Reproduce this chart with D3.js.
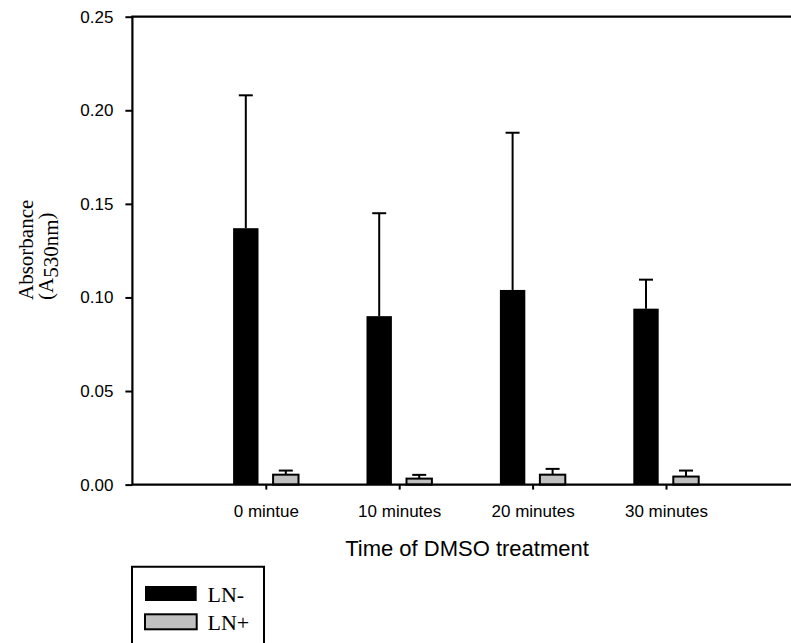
<!DOCTYPE html>
<html lang="en">
<head>
<meta charset="UTF-8">
<script src="https://d3js.org/d3.v7.min.js"></script>
<style>
  body { margin: 0; background: #fff; }
  svg { display: block; }
  .tick text { font-family: "Liberation Sans", Arial, sans-serif; font-size: 17px; fill: #000; }
</style>
</head>
<body>
<script>
const categories = ["0 mintue", "10 minutes", "20 minutes", "30 minutes"];
const seriesNames = ["LN-", "LN+"];
const lnMinus = [0.137, 0.090, 0.104, 0.094];
const lnMinusErr = [0.071, 0.055, 0.084, 0.0155];
const lnPlus = [0.0053, 0.0032, 0.0053, 0.0043];
const lnPlusErr = [0.0022, 0.0020, 0.0031, 0.0032];
const yTicks = [0, 0.05, 0.10, 0.15, 0.20, 0.25];

const width = 791, height = 643;
const plotLeft = 132.4, plotTop = 16.7, plotBottom = 484.6, plotRight = 791;

const svg = d3.select("body").append("svg")
  .attr("width", width).attr("height", height);

// group positions 1..4, axis runs off the right edge
const x = d3.scaleLinear().domain([0, 5]).range([plotLeft, plotLeft + 5 * 133.4]);
const y = d3.scaleLinear().domain([0, 0.25]).range([plotBottom, plotTop]);

const barW = 25.4, offset = 20;
const fills = ["#000", "#c0c0c0"];

const series = [
  { name: seriesNames[0], values: lnMinus, err: lnMinusErr, dx: -offset, fill: fills[0] },
  { name: seriesNames[1], values: lnPlus, err: lnPlusErr, dx: offset, fill: fills[1] }
];

series.forEach(s => {
  const g = svg.append("g");
  const rows = categories.map((c, i) => ({ i, v: s.values[i], e: s.err[i] }));

  // error bars (upper only)
  g.selectAll("line.err").data(rows).join("line")
    .attr("class", "err")
    .attr("x1", d => x(d.i + 1) + s.dx).attr("x2", d => x(d.i + 1) + s.dx)
    .attr("y1", d => y(d.v)).attr("y2", d => y(d.v + d.e))
    .attr("stroke", "#000").attr("stroke-width", 2);
  g.selectAll("line.cap").data(rows).join("line")
    .attr("class", "cap")
    .attr("x1", d => x(d.i + 1) + s.dx - 7).attr("x2", d => x(d.i + 1) + s.dx + 7)
    .attr("y1", d => y(d.v + d.e)).attr("y2", d => y(d.v + d.e))
    .attr("stroke", "#000").attr("stroke-width", 2);

  g.selectAll("rect").data(rows).join("rect")
    .attr("x", d => x(d.i + 1) + s.dx - barW / 2)
    .attr("y", d => y(d.v))
    .attr("width", barW)
    .attr("height", d => y(0) - y(d.v))
    .attr("fill", s.fill)
    .attr("stroke", s.fill === "#000" ? "none" : "#000")
    .attr("stroke-width", 2);
});

// y axis
svg.append("g")
  .attr("transform", `translate(${plotLeft},0)`)
  .call(d3.axisLeft(y).tickValues(yTicks).tickFormat(d3.format(".2f"))
    .tickSize(7).tickPadding(12))
  .call(g => g.select(".domain").remove())
  .call(g => g.selectAll(".tick line").attr("stroke-width", 2));

// x axis
svg.append("g")
  .attr("transform", `translate(0,${plotBottom})`)
  .call(d3.axisBottom(x).tickValues([1, 2, 3, 4]).tickFormat(d => categories[d - 1])
    .tickSize(5).tickPadding(15))
  .call(g => g.select(".domain").remove())
  .call(g => g.selectAll(".tick line").attr("stroke-width", 2));

// frame lines: left, top, bottom
svg.append("path")
  .attr("d", `M${plotRight},${plotTop}H${plotLeft}V${plotBottom}H${plotRight}`)
  .attr("fill", "none").attr("stroke", "#000").attr("stroke-width", 2.2);

// axis titles
svg.append("text")
  .attr("x", 467).attr("y", 556)
  .attr("text-anchor", "middle")
  .style("font-family", "'Liberation Sans', Arial, sans-serif")
  .style("font-size", "22px")
  .text("Time of DMSO treatment");

const yt = svg.append("text")
  .attr("transform", "translate(33,300) rotate(-90)")
  .style("font-family", "'Liberation Serif', 'Times New Roman', serif")
  .style("font-size", "21px");
yt.append("tspan").attr("x", 0).attr("y", 0).text("Absorbance");
yt.append("tspan").attr("x", 0).attr("y", 20).text("(A");
yt.append("tspan").attr("dy", 5).text("530nm");
yt.append("tspan").attr("dy", -5).text(")");

// legend (box runs past bottom edge)
const lg = svg.append("g");
lg.append("path")
  .attr("d", `M132,${height + 5}V566.7H264V${height + 5}`)
  .attr("fill", "none").attr("stroke", "#000").attr("stroke-width", 2);
const ly = d3.scalePoint().domain(seriesNames).range([586, 614.3]);
seriesNames.forEach((n, i) => {
  lg.append("rect")
    .attr("x", 145).attr("y", ly(n)).attr("width", 51.7).attr("height", 15)
    .attr("fill", fills[i])
    .attr("stroke", "#000").attr("stroke-width", i ? 2 : 0);
  lg.append("text")
    .attr("x", 207.5).attr("y", ly(n) + 15.5)
    .style("font-family", "'Liberation Serif', 'Times New Roman', serif")
    .style("font-size", "22px")
    .text(n);
});
</script>
</body>
</html>
